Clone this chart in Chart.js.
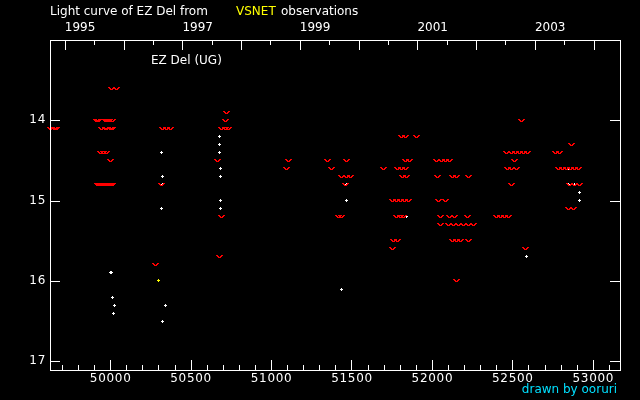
<!DOCTYPE html>
<html>
<head>
<meta charset="utf-8">
<title>Light curve of EZ Del</title>
<script src="https://cdn.jsdelivr.net/npm/chart.js@4.4.1/dist/chart.umd.min.js"></script>
<style>
  html, body { margin: 0; padding: 0; background: #000; }
  canvas { display: block; }
</style>
</head>
<body>
<canvas id="myChart" width="640" height="400"></canvas>
<script>
'use strict';

// observations (MJD, magnitude)
// red "v" = fainter-than estimates
let redDays = [
  50011, 50042,
  49918, 49930, 49970, 49982, 49994, 50015,
  49632, 49657, 49669, 49947, 49970, 49978, 50003, 50012,
  49942, 49961, 49980, 50000,
  49924, 49934, 49943, 49952, 49961, 49970, 49980, 49989, 49998, 50008, 50017, 50317,
  50280, 50327, 50352, 50377,
  50723, 50714, 50691, 50715, 50737, 50665, 50692, 50677,
  51106, 51348, 51468, 51099, 51375, 51702,
  51439, 51467, 51495, 51462, 51420, 51439,
  51812, 51836, 51907, 51836, 51858,
  51787, 51812, 51836, 51818, 51843,
  51755, 51780, 51805, 51830, 51855,
  51780, 51802, 51824, 51762, 51787, 51757,
  52029, 52060, 52085, 52110,
  52037, 52128, 52153, 52230,
  52041, 52085,
  52052, 52110, 52141, 52224,
  52052, 52104, 52135, 52165, 52197, 52229, 52259,
  52128, 52153, 52178, 52230, 52152,
  52559, 52464, 52495, 52520, 52545, 52570, 52594, 52515,
  52470, 52495, 52526, 52497,
  52402, 52427, 52452, 52476, 52584,
  52869, 52768, 52794,
  52787, 52812, 52837, 52861, 52886, 52911,
  52855, 52886, 52917, 52849, 52880
];
let redMags = [
  13.6, 13.6,
  14.0, 14.0, 14.0, 14.0, 14.0, 14.0,
  14.1, 14.1, 14.1, 14.1, 14.1, 14.1, 14.1, 14.1,
  14.4, 14.4, 14.4, 14.5,
  14.8, 14.8, 14.8, 14.8, 14.8, 14.8, 14.8, 14.8, 14.8, 14.8, 14.8, 14.8,
  15.8, 14.1, 14.1, 14.1,
  13.9, 14.0, 14.1, 14.1, 14.1, 14.5, 15.2, 15.7,
  14.5, 14.5, 14.5, 14.6, 14.6, 14.6,
  14.7, 14.7, 14.7, 14.8, 15.2, 15.2,
  14.2, 14.2, 14.2, 14.5, 14.5,
  14.6, 14.6, 14.6, 14.7, 14.7,
  15.0, 15.0, 15.0, 15.0, 15.0,
  15.2, 15.2, 15.2, 15.5, 15.5, 15.6,
  14.5, 14.5, 14.5, 14.5,
  14.7, 14.7, 14.7, 14.7,
  15.0, 15.0,
  15.2, 15.2, 15.2, 15.2,
  15.3, 15.3, 15.3, 15.3, 15.3, 15.3, 15.3,
  15.5, 15.5, 15.5, 15.5, 16.0,
  14.0, 14.4, 14.4, 14.4, 14.4, 14.4, 14.4, 14.5,
  14.6, 14.6, 14.6, 14.8,
  15.2, 15.2, 15.2, 15.2, 15.6,
  14.3, 14.4, 14.4,
  14.6, 14.6, 14.6, 14.6, 14.6, 14.6,
  14.8, 14.8, 14.8, 15.1, 15.1
];

// white dots = positive detections
let whiteDays = [
  50004, 50010, 50012, 50025, 50019,
  50317, 50323, 50323, 50317, 50342, 50323,
  50677, 50677, 50677, 50683, 50683, 50683, 50683,
  51468, 51472, 51435, 51845,
  52590,
  52851, 52851, 52888, 52919, 52919
];
let whiteMags = [
  15.9, 15.9, 16.2, 16.3, 16.4,
  14.4, 14.7, 14.8, 15.1, 16.3, 16.5,
  14.2, 14.3, 14.4, 14.6, 14.7, 15.0, 15.1,
  14.8, 15.0, 16.1, 15.2,
  15.7,
  14.6, 14.8, 14.8, 14.9, 15.0
];

// one yellow point
let yellowDays = [50298];
let yellowMags = [16.0];

// axis ticks
let dayTicks = [50000, 50500, 51000, 51500, 52000, 52500, 53000];
let magTicks = [14, 15, 16, 17];
let yearTicks = [49718, 50083, 50449, 50814, 51179, 51544, 51910, 52275, 52640, 53005];
let halfYearTicks = [49900, 50265, 50631, 50996, 51361, 51727, 52092, 52457, 52822];
let yearLabels = ['1995', '', '1997', '', '1999', '', '2001', '', '2003', ''];

let font = '12px "DejaVu Sans"';

function toPoints(days, mags) {
  let pts = [];
  for (let i = 0; i < days.length; i++) {
    pts.push({x: days[i], y: mags[i]});
  }
  return pts;
}

// little pixel marks used as point styles
function makeVee(color) {
  let c = document.createElement('canvas');
  c.width = 7;
  c.height = 3;
  let g = c.getContext('2d');
  g.fillStyle = color;
  g.fillRect(0, 0, 2, 1);
  g.fillRect(5, 0, 2, 1);
  g.fillRect(1, 1, 2, 1);
  g.fillRect(4, 1, 2, 1);
  g.fillRect(2, 2, 3, 1);
  return c;
}

function makePlus(color) {
  let c = document.createElement('canvas');
  c.width = 3;
  c.height = 3;
  let g = c.getContext('2d');
  g.fillStyle = color;
  g.fillRect(1, 0, 1, 3);
  g.fillRect(0, 1, 3, 1);
  return c;
}

function crisp(v) {
  return Math.round(v) + 0.5;
}

const framePlugin = {
  id: 'framePlugin',
  beforeDraw(chart) {
    let ctx = chart.ctx;
    ctx.save();
    ctx.fillStyle = '#000';
    ctx.fillRect(0, 0, chart.width, chart.height);
    ctx.restore();
  },
  beforeDatasetsDraw(chart) {
    chart.ctx.imageSmoothingEnabled = false;
  },
  afterDraw(chart) {
    let ctx = chart.ctx;
    let area = chart.chartArea;
    let xs = chart.scales.x;
    let ys = chart.scales.y;

    ctx.save();
    ctx.strokeStyle = '#fff';
    ctx.lineWidth = 1;
    ctx.strokeRect(area.left + 0.5, area.top + 0.5, area.right - area.left, area.bottom - area.top);

    ctx.beginPath();
    // bottom: every 100 days, long every 500
    for (let d = 49700; d <= 53100; d += 100) {
      let px = crisp(xs.getPixelForValue(d));
      let len = (d % 500 === 0) ? 10 : 5;
      ctx.moveTo(px, area.bottom);
      ctx.lineTo(px, area.bottom - len);
    }
    // top: years long, half years short
    for (let i = 0; i < yearTicks.length; i++) {
      let px = crisp(xs.getPixelForValue(yearTicks[i]));
      ctx.moveTo(px, area.top);
      ctx.lineTo(px, area.top + 10);
    }
    for (let i = 0; i < halfYearTicks.length; i++) {
      let px = crisp(xs.getPixelForValue(halfYearTicks[i]));
      ctx.moveTo(px, area.top);
      ctx.lineTo(px, area.top + 5);
    }
    // magnitude ticks both sides
    for (let i = 0; i < magTicks.length; i++) {
      let py = crisp(ys.getPixelForValue(magTicks[i]));
      ctx.moveTo(area.left, py);
      ctx.lineTo(area.left + 10, py);
      ctx.moveTo(area.right, py);
      ctx.lineTo(area.right - 10, py);
    }
    ctx.stroke();

    ctx.font = font;
    ctx.fillStyle = '#fff';
    ctx.textBaseline = 'middle';

    // the original digits are spaced out a little
    ctx.letterSpacing = '0.7px';
    ctx.textAlign = 'center';
    for (let i = 0; i < dayTicks.length; i++) {
      ctx.fillText(String(dayTicks[i]), xs.getPixelForValue(dayTicks[i]) + 0.5, 379);
    }

    ctx.textAlign = 'right';
    for (let i = 0; i < magTicks.length; i++) {
      ctx.fillText(String(magTicks[i]), 46, ys.getPixelForValue(magTicks[i]));
    }
    ctx.letterSpacing = '0px';

    ctx.textAlign = 'left';
    for (let i = 0; i < yearTicks.length; i++) {
      if (yearLabels[i]) {
        ctx.fillText(yearLabels[i], xs.getPixelForValue(yearTicks[i]), 28);
      }
    }

    ctx.fillText('Light curve of EZ Del from', 50, 12);
    ctx.fillStyle = '#ffff00';
    ctx.fillText('VSNET', 236, 12);
    ctx.fillStyle = '#fff';
    ctx.fillText('observations', 281, 12);
    ctx.fillText('EZ Del (UG)', 151, 61);

    ctx.fillStyle = '#00e0ff';
    ctx.textAlign = 'right';
    ctx.fillText('drawn by ooruri', 617, 390);
    ctx.restore();
  }
};

const data = {
  datasets: [
    {
      label: 'fainter than',
      data: toPoints(redDays, redMags),
      pointStyle: makeVee('#ff0000'),
      radius: 3,
      clip: false
    },
    {
      label: 'detections',
      data: toPoints(whiteDays, whiteMags),
      pointStyle: makePlus('#ffffff'),
      radius: 2,
      clip: false
    },
    {
      label: 'yellow',
      data: toPoints(yellowDays, yellowMags),
      pointStyle: makePlus('#ffff00'),
      radius: 2,
      clip: false
    }
  ]
};

const config = {
  type: 'scatter',
  data: data,
  options: {
    responsive: false,
    animation: false,
    devicePixelRatio: 1,
    events: [],
    layout: {
      padding: {left: 50, right: 20, top: 40, bottom: 30}
    },
    plugins: {
      legend: {display: false},
      tooltip: {enabled: false}
    },
    scales: {
      x: {
        type: 'linear',
        display: false,
        min: 49626,
        max: 53169
      },
      y: {
        type: 'linear',
        display: false,
        reverse: true,
        min: 13.0,
        max: 17.108
      }
    }
  },
  plugins: [framePlugin]
};

const myChart = new Chart(
  document.getElementById('myChart'),
  config
);
</script>
</body>
</html>
